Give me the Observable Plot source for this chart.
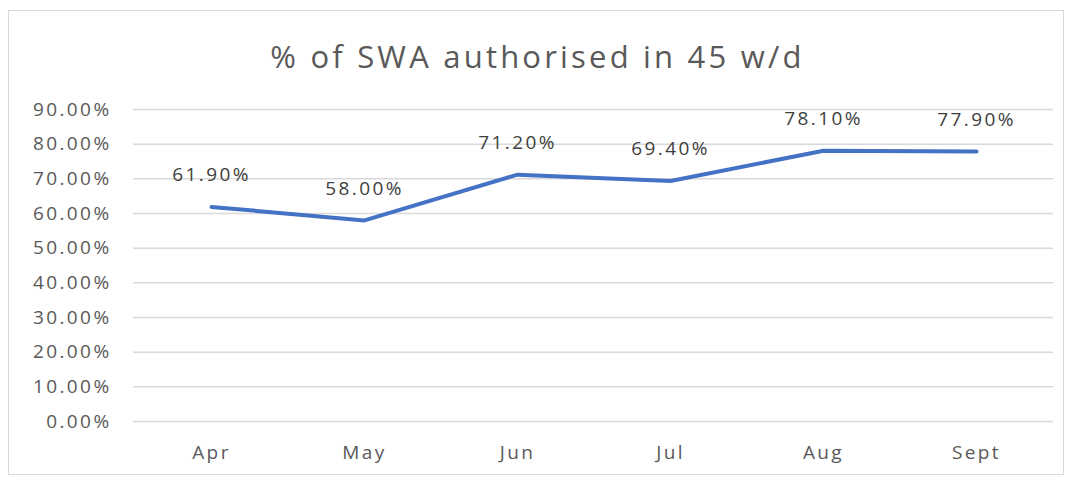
<!DOCTYPE html>
<html>
<head>
<meta charset="utf-8">
<script src="https://cdn.jsdelivr.net/npm/d3@7"></script>
<script src="https://cdn.jsdelivr.net/npm/@observablehq/plot@0.6"></script>
<style>
  body { margin: 0; background: #fff; }
  #frame { position: absolute; left: 8px; top: 10px; width: 1056px; height: 465px; border: 1px solid #d9d9d9; box-sizing: border-box; }
  #title { position: absolute; left: 0; top: 36px; width: 1075px; text-align: center; font-family: "Open Sans", sans-serif; font-size: 31px; letter-spacing: 3.2px; color: #595959; line-height: 40px; }
  #chart { position: absolute; left: 0; top: 90px; }
  #chart svg text { letter-spacing: 2.4px; }
</style>
</head>
<body>
<div id="frame"></div>
<div id="title">% of SWA authorised in 45 w/d</div>
<div id="chart"></div>
<script>
const months = ["Apr", "May", "Jun", "Jul", "Aug", "Sept"];
const values = [0.619, 0.580, 0.712, 0.694, 0.781, 0.779];
const yTicks = [0, 0.1, 0.2, 0.3, 0.4, 0.5, 0.6, 0.7, 0.8, 0.9];

const data = months.map((m, i) => ({month: m, value: values[i]}));
const fmt = d3.format(".2%");

const chart = Plot.plot({
  width: 1075,
  height: 390,
  marginLeft: 133,
  marginRight: 22,
  marginTop: 19,
  marginBottom: 59,
  style: { fontFamily: "Open Sans, sans-serif", fontSize: "19px", color: "#595959", background: "transparent" },
  x: { type: "point", domain: months, padding: 0.5, label: null },
  y: { domain: [0, 0.9], label: null },
  marks: [
    Plot.gridY(yTicks, { stroke: "#d9d9d9", strokeOpacity: 1, strokeWidth: 1.5 }),
    Plot.axisY(yTicks, { tickSize: 0, tickPadding: 22, tickFormat: fmt, fontSize: 19, fill: "#595959" }),
    Plot.axisX({ tickSize: 0, tickPadding: 24, fontSize: 19, fill: "#595959" }),
    Plot.line(data, { x: "month", y: "value", stroke: "#4472C4", strokeWidth: 4, strokeLinejoin: "round", strokeLinecap: "round" }),
    Plot.text(data, { x: "month", y: "value", text: d => fmt(d.value), dy: -32, fontSize: 19, fill: "#404040" })
  ]
});
document.getElementById("chart").appendChild(chart);
</script>
</body>
</html>
